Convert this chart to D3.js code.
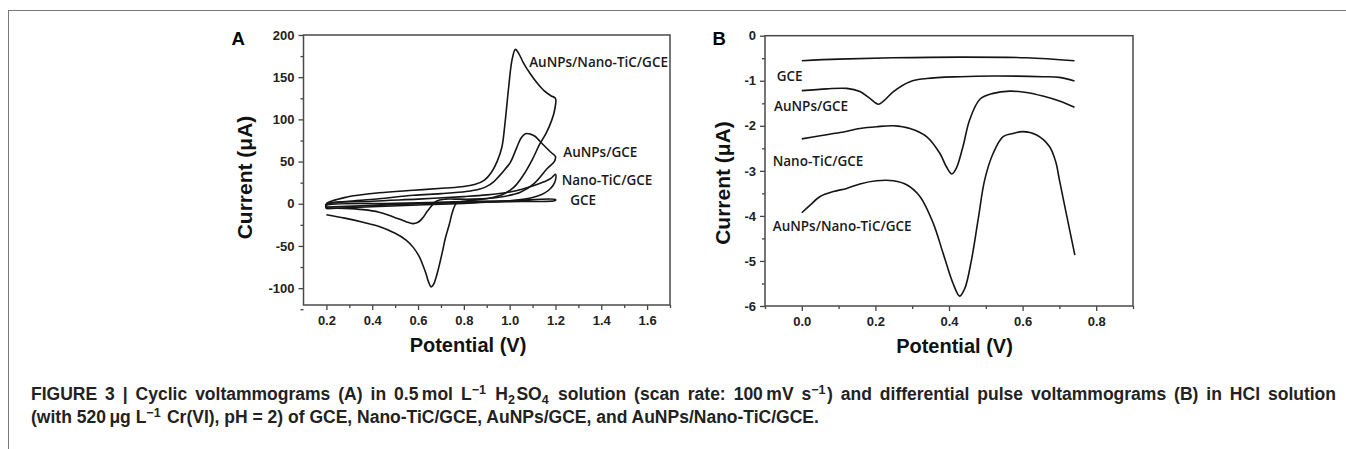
<!DOCTYPE html>
<html>
<head>
<meta charset="utf-8">
<script src="https://cdn.jsdelivr.net/npm/d3@7"></script>
<style>
  body { margin: 0; background: #fff; }
  .tick text { font-family: "Liberation Sans", Arial, sans-serif; font-weight: bold; font-size: 13px; fill: #222; }
</style>
</head>
<body>
<div id="fig"></div>
<script>
// ---- panel A: cyclic voltammograms, [potential V, current uA] along the loop
const cvAuNPsTiC = [
  [0.2, -4], [0.2, 0], [0.29, 8], [0.43, 13], [0.58, 16], [0.72, 18.6], [0.8, 20.5], [0.85, 23],
  [0.89, 28], [0.92, 37], [0.945, 50], [0.966, 67], [0.981, 99], [0.996, 139], [1.01, 170],
  [1.025, 183], [1.04, 178], [1.06, 167], [1.09, 154], [1.12, 143], [1.15, 134], [1.18, 128],
  [1.2, 125], [1.197, 112], [1.185, 100], [1.16, 84], [1.13, 70], [1.1, 53], [1.06, 34],
  [1.02, 20], [0.97, 11], [0.9, 6], [0.83, 4], [0.79, 2.5], [0.766, 0], [0.75, -10], [0.737, -24],
  [0.72, -40], [0.708, -55], [0.69, -76], [0.679, -87], [0.667, -96], [0.657, -98.5], [0.645, -92],
  [0.635, -83], [0.62, -72], [0.606, -63], [0.58, -52], [0.548, -43], [0.5, -35], [0.43, -27],
  [0.36, -22], [0.28, -17], [0.2, -13]
];
const cvAuNPs = [
  [0.2, -5], [0.2, -1], [0.3, 3], [0.43, 6], [0.58, 10], [0.7, 12], [0.81, 14.5], [0.87, 17.5],
  [0.9, 20.6], [0.93, 26], [0.955, 33], [0.98, 41], [1.003, 49], [1.03, 66], [1.05, 78],
  [1.069, 83], [1.09, 82.5], [1.11, 80], [1.15, 69], [1.18, 61], [1.2, 56], [1.195, 50],
  [1.163, 41.5], [1.105, 23.6], [1.047, 13.7], [0.96, 8], [0.84, 5.5], [0.76, 5.5], [0.72, 5.5],
  [0.68, 3], [0.643, -8], [0.62, -17], [0.6, -22], [0.577, -23.5], [0.55, -21.5], [0.534, -19.8],
  [0.5, -16.5], [0.476, -14], [0.43, -10], [0.36, -7], [0.28, -5.5], [0.2, -5]
];
const cvTiC = [
  [0.2, -6], [0.2, -1], [0.4, 3], [0.6, 5.5], [0.8, 8.5], [0.9, 10.5], [1.0, 14], [1.05, 17],
  [1.1, 21], [1.15, 26], [1.18, 30], [1.2, 35], [1.2, 28], [1.19, 22], [1.17, 16], [1.14, 11],
  [1.1, 7.5], [1.0, 3.5], [0.8, 0.5], [0.6, -1.5], [0.4, -3.5], [0.2, -6]
];
const cvGCE = [
  [0.2, -4], [0.2, -2], [0.5, 0.5], [0.8, 2.5], [1.0, 3.5], [1.2, 5], [1.2, 4], [1.0, 2.5],
  [0.8, 1.5], [0.5, -1], [0.2, -4]
];
const seriesA = [cvAuNPsTiC, cvAuNPs, cvTiC, cvGCE];
const namesA = ["AuNPs/Nano-TiC/GCE", "AuNPs/GCE", "Nano-TiC/GCE", "GCE"];
const labelAnchorA = [[1.085, 162], [1.234, 55.4], [1.227, 22.2], [1.264, -1.5]];

// ---- panel B: differential pulse voltammograms, [potential V, current uA]
const dpvGCE = [
  [0.0, -0.555], [0.1, -0.52], [0.249, -0.49], [0.43, -0.475], [0.61, -0.49], [0.741, -0.555]
];
const dpvAuNPs = [
  [0.0, -1.22], [0.068, -1.18], [0.122, -1.17], [0.158, -1.24], [0.185, -1.39], [0.208, -1.52],
  [0.221, -1.46], [0.249, -1.24], [0.294, -1.02], [0.339, -0.95], [0.43, -0.91], [0.52, -0.895],
  [0.655, -0.91], [0.70, -0.925], [0.741, -1.006]
];
const dpvTiC = [
  [0.0, -2.29], [0.05, -2.22], [0.104, -2.15], [0.158, -2.06], [0.203, -2.02], [0.249, -2.0],
  [0.294, -2.06], [0.339, -2.24], [0.375, -2.61], [0.393, -2.91], [0.408, -3.07], [0.42, -2.94],
  [0.438, -2.46], [0.456, -1.87], [0.484, -1.41], [0.52, -1.28], [0.565, -1.23], [0.61, -1.26],
  [0.655, -1.34], [0.70, -1.45], [0.741, -1.59]
];
const dpvAuNPsTiC = [
  [0.0, -3.93], [0.0226, -3.76], [0.05, -3.57], [0.086, -3.46], [0.122, -3.39], [0.158, -3.29],
  [0.203, -3.22], [0.249, -3.22], [0.285, -3.31], [0.321, -3.57], [0.357, -4.16], [0.384, -4.83],
  [0.411, -5.5], [0.429, -5.78], [0.443, -5.61], [0.461, -4.98], [0.479, -4.09], [0.497, -3.2],
  [0.52, -2.61], [0.547, -2.24], [0.574, -2.17], [0.601, -2.13], [0.637, -2.2], [0.673, -2.46],
  [0.69, -2.8], [0.70, -3.2], [0.72, -4.0], [0.742, -4.87]
];
const seriesB = [dpvGCE, dpvAuNPs, dpvTiC, dpvAuNPsTiC];
const namesB = ["GCE", "AuNPs/GCE", "Nano-TiC/GCE", "AuNPs/Nano-TiC/GCE"];
const labelAnchorB = [[-0.068, -1.005], [-0.0755, -1.67], [-0.079, -2.89], [-0.079, -4.33]];

// ---- ticks
const xTicksA = [0.2, 0.4, 0.6, 0.8, 1.0, 1.2, 1.4, 1.6];
const xMinorA = [0.3, 0.5, 0.7, 0.9, 1.1, 1.3, 1.5, 1.7];
const yTicksA = [-100, -50, 0, 50, 100, 150, 200];
const yMinorA = [-125, -75, -25, 25, 75, 125, 175];
const xTicksB = [0.0, 0.2, 0.4, 0.6, 0.8];
const xMinorB = [-0.1, 0.1, 0.3, 0.5, 0.7, 0.9];
const yTicksB = [-6, -5, -4, -3, -2, -1, 0];
const yMinorB = [-5.5, -4.5, -3.5, -2.5, -1.5, -0.5];

const W = 1346, H = 449;
const svg = d3.select("#fig").append("svg")
    .attr("width", W)
    .attr("height", H)
    .style("font-family", "'Liberation Sans', Arial, sans-serif");

// outer figure frame
svg.append("rect")
    .attr("x", 8.5).attr("y", 10.5)
    .attr("width", W).attr("height", H)
    .attr("fill", "none").attr("stroke", "#777").attr("stroke-width", 1);

function panel(o) {
  const x = d3.scaleLinear().domain(o.xDomain).range([o.left, o.right]);
  const y = d3.scaleLinear().domain(o.yDomain).range([o.bottom, o.top]);
  const g = svg.append("g");

  // minor ticks first
  g.append("g")
      .attr("transform", `translate(0,${o.bottom})`)
      .call(d3.axisBottom(x).tickValues(o.xMinor).tickSize(3).tickFormat(""))
      .call(a => a.select(".domain").remove());
  g.append("g")
      .attr("transform", `translate(${o.left},0)`)
      .call(d3.axisLeft(y).tickValues(o.yMinor).tickSize(3).tickFormat(""))
      .call(a => a.select(".domain").remove());

  g.append("g")
      .attr("transform", `translate(0,${o.bottom})`)
      .call(d3.axisBottom(x).tickValues(o.xTicks).tickSize(5).tickPadding(6).tickFormat(d3.format(".1f")))
      .call(a => a.select(".domain").remove());
  g.append("g")
      .attr("transform", `translate(${o.left},0)`)
      .call(d3.axisLeft(y).tickValues(o.yTicks).tickSize(5).tickPadding(4).tickFormat(d => d))
      .call(a => a.select(".domain").remove());
  g.selectAll(".tick line").attr("stroke", "#444").attr("stroke-width", 1.3);

  // curves
  const line = d3.line()
      .x(d => x(d[0]))
      .y(d => y(d[1]))
      .curve(d3.curveCatmullRom.alpha(0.5));
  g.selectAll("path.curve")
    .data(o.series)
    .enter().append("path")
      .attr("class", "curve")
      .attr("d", line)
      .attr("fill", "none")
      .attr("stroke", "#151515")
      .attr("stroke-width", 1.6)
      .attr("stroke-linejoin", "round");

  // frame box
  g.append("rect")
      .attr("x", o.left).attr("y", o.top)
      .attr("width", o.right - o.left).attr("height", o.bottom - o.top)
      .attr("fill", "none").attr("stroke", "#4a4a4a").attr("stroke-width", 1.5);

  // curve labels
  g.selectAll("text.lbl")
    .data(o.names)
    .enter().append("text")
      .attr("class", "lbl")
      .attr("x", (d, i) => x(o.anchors[i][0]))
      .attr("y", (d, i) => y(o.anchors[i][1]))
      .attr("font-family", "'Open Sans', sans-serif")
      .attr("font-weight", 600)
      .attr("font-size", 13.5)
      .attr("fill", "#1a1a1a")
      .text(d => d);

  // axis titles
  g.append("text")
      .attr("x", o.xTitle[0]).attr("y", o.xTitle[1])
      .attr("text-anchor", "middle")
      .attr("font-weight", "bold").attr("font-size", 20)
      .attr("fill", "#111")
      .text("Potential (V)");
  g.append("text")
      .attr("transform", `translate(${o.yTitle[0]},${o.yTitle[1]}) rotate(-90)`)
      .attr("text-anchor", "middle")
      .attr("font-weight", "bold").attr("font-size", 21)
      .attr("fill", "#111")
      .text("Current (\u03bcA)");

  // panel letter
  g.append("text")
      .attr("x", o.letter[0]).attr("y", o.letter[1])
      .attr("font-weight", "bold").attr("font-size", 18.5)
      .attr("fill", "#000")
      .text(o.letter[2]);
}

panel({
  xDomain: [0.1, 1.7], yDomain: [-120, 200],
  left: 303.5, right: 670, top: 35, bottom: 305,
  xTicks: xTicksA, xMinor: xMinorA, yTicks: yTicksA, yMinor: yMinorA,
  series: seriesA, names: namesA, anchors: labelAnchorA,
  xTitle: [468, 351.5], yTitle: [251.5, 177.5], letter: [231.5, 45, "A"]
});

panel({
  xDomain: [-0.1, 0.9], yDomain: [-6, 0],
  left: 765, right: 1133, top: 35.7, bottom: 306,
  xTicks: xTicksB, xMinor: xMinorB, yTicks: yTicksB, yMinor: yMinorB,
  series: seriesB, names: namesB, anchors: labelAnchorB,
  xTitle: [954.5, 353], yTitle: [729.5, 183], letter: [712.5, 45, "B"]
});

// caption
const cap = svg.append("g")
    .attr("font-weight", "bold")
    .attr("font-size", 17.5)
    .attr("fill", "#222");

function addLine(yPos, parts, justifyTo) {
  const t = cap.append("text").attr("x", 31).attr("y", yPos);
  parts.forEach(p => {
    if (typeof p === "string") {
      t.append("tspan").text(p);
    } else {
      const shift = p.sup ? -6.5 : 3.5;
      t.append("tspan").attr("dy", shift).attr("font-size", 12.5).text(p.sup || p.sub);
      t.append("tspan").attr("dy", -shift).text("\u200a");
    }
  });
  if (justifyTo) {
    // justified line: spread the gap over the word spaces
    const natural = t.node().getComputedTextLength();
    const spaces = (t.text().match(/ /g) || []).length;
    t.attr("word-spacing", Math.max(0, (justifyTo - 31 - natural) / spaces));
  }
}

addLine(400, [
  "FIGURE 3 | Cyclic voltammograms (A) in 0.5\u2009mol L", { sup: "\u22121" }, " H", { sub: "2" },
  "SO", { sub: "4" }, " solution (scan rate: 100\u2009mV s", { sup: "\u22121" },
  ") and differential pulse voltammograms (B) in HCl solution"
], 1336);
addLine(423, [
  "(with 520\u2009\u03bcg L", { sup: "\u22121" }, " Cr(VI), pH = 2) of GCE, Nano-TiC/GCE, AuNPs/GCE, and AuNPs/Nano-TiC/GCE."
]);
</script>
</body>
</html>
